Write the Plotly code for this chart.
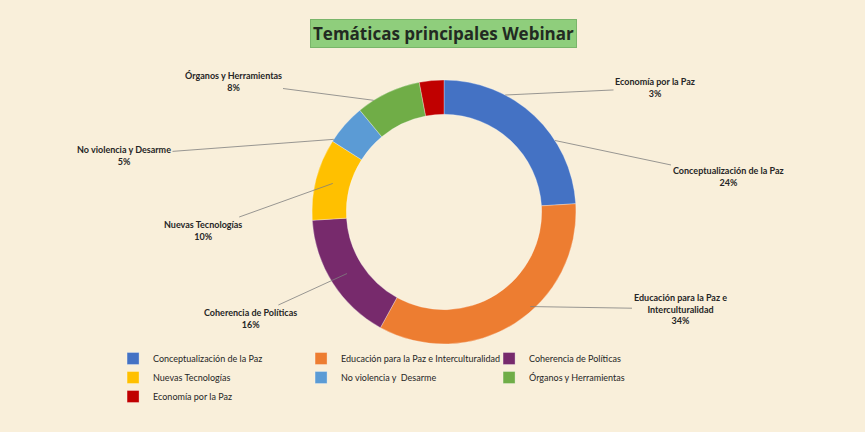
import math
import plotly.graph_objects as go

# ---- data ----
categories = [
    "Conceptualización de la Paz",
    "Educación para la Paz e Interculturalidad",
    "Coherencia de Políticas",
    "Nuevas Tecnologías",
    "No violencia y  Desarme",
    "Órganos y Herramientas",
    "Economía por la Paz",
]
values = [24, 34, 16, 10, 5, 8, 3]
label_texts = [
    "Conceptualización de la Paz",
    "Educación para la Paz e<br>Interculturalidad",
    "Coherencia de Políticas",
    "Nuevas Tecnologías",
    "No violencia y Desarme",
    "Órganos y Herramientas",
    "Economía por la Paz",
]
title_text = "Temáticas principales Webinar"

# ---- styles / layout ----
colors = ["#4472C4", "#ED7D31", "#772a6c", "#FFC000", "#5B9BD5", "#70AD47", "#C00000"]
W, H = 865, 432
CX, CY, R = 444, 212, 132          # donut centre / outer radius (px)
HOLE = 0.74
# text block centre (px) and leader tip (angle offset deg, radius fraction)
label_pos = [
    ((728, 177), 14, 1.0),
    ((680, 309), -10, 0.97),
    ((250, 318), 0, 0.87),
    ((203, 230), 0, 0.87),
    ((124, 155), -8, 1.0),
    ((233, 82), -7, 1.0),
    ((655, 88), 33, 1.0),
]
FONT = "Lato"

fig = go.Figure()
fig.add_trace(go.Pie(
    labels=categories,
    values=values,
    hole=HOLE,
    sort=False,
    direction="clockwise",
    rotation=0,
    textinfo="none",
    marker=dict(colors=colors, line=dict(color="rgba(255,255,255,0.5)", width=0.6)),
    domain=dict(x=[(CX - R) / W, (CX + R) / W], y=[(H - CY - R) / H, (H - CY + R) / H]),
    showlegend=True,
))

total = sum(values)
annotations = []
cum = 0
for i, v in enumerate(values):
    mid = (cum + v / 2) / total * 360
    cum += v
    (tx, ty), dang, rf = label_pos[i]
    ang = math.radians(mid + dang)
    px = CX + R * rf * math.sin(ang)
    py = CY - R * rf * math.cos(ang)
    pct = round(v / total * 100)
    annotations.append(dict(
        x=px / W, y=(H - py) / H, xref="paper", yref="paper",
        text=f"{label_texts[i]}<br>{pct}%",
        showarrow=True, arrowhead=0, arrowwidth=0.8, arrowcolor="#7f7f7f",
        ax=tx - px, ay=ty - py, axref="pixel", ayref="pixel",
        font=dict(family=FONT, size=9, color="#262626", weight="bold"),
        align="center",
    ))

annotations.append(dict(
    x=(CX - 1) / W, y=(H - 33.5) / H, xref="paper", yref="paper",
    xanchor="center", yanchor="middle",
    text=f"<b>{title_text}</b>", showarrow=False,
    font=dict(family="Open Sans", size=17, color="#222a22"),
    bgcolor="#8fce7c", bordercolor="#7ab56a", borderwidth=1, borderpad=2,
))

fig.update_layout(
    width=W, height=H,
    margin=dict(l=0, r=0, t=0, b=0),
    paper_bgcolor="#f9efda",
    plot_bgcolor="#f9efda",
    annotations=annotations,
    showlegend=True,
    legend=dict(
        orientation="h", x=150 / W, xanchor="left", y=(H - 344) / H, yanchor="top",
        font=dict(family=FONT, size=9, color="#262626"),
        entrywidth=143, entrywidthmode="pixels",
        traceorder="normal", bgcolor="rgba(0,0,0,0)",
        itemwidth=30, tracegroupgap=0,
    ),
)

fig.write_html("out.html")
